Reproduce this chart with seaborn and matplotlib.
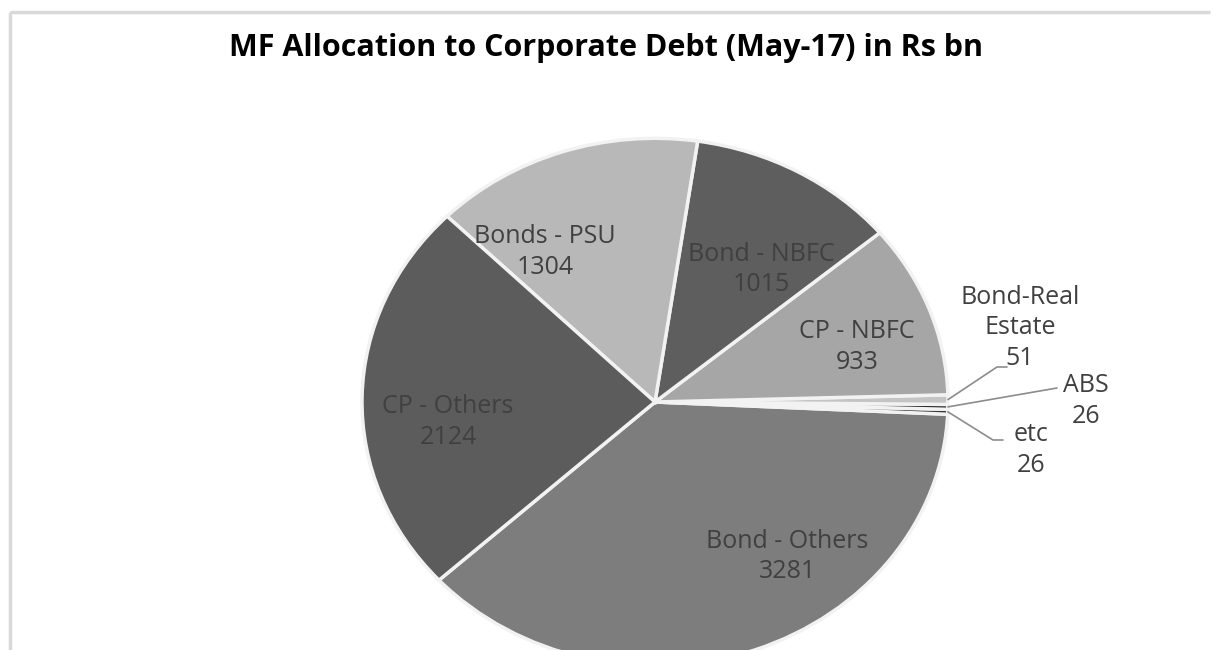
import numpy as np
import matplotlib
matplotlib.use("Agg")
import matplotlib.pyplot as plt
import seaborn as sns

categories = ["Bond - Others", "etc", "ABS", "Bond-Real\nEstate", "CP - NBFC",
              "Bond - NBFC", "Bonds - PSU", "CP - Others"]
values = [3281, 26, 26, 51, 933, 1015, 1304, 2124]
colors = ["#7d7d7d", "#3a3a3a", "#2e2e2e", "#c4c4c4", "#a6a6a6",
          "#5e5e5e", "#b8b8b8", "#5c5c5c"]
title = "MF Allocation to Corporate Debt (May-17) in Rs bn"

sns.set_theme(style="white")
plt.rcParams["font.family"] = ["Open Sans", "DejaVu Sans"]

W, H = 1214, 650
TILT = 0.9  # vertical squash of the pie (3D look)
fig = plt.figure(figsize=(W / 100, H / 100), dpi=100, facecolor="white")
ax = fig.add_axes([0, 0, 1, 1])


def to_data(px, py):
    """pixel (from top-left) -> data coords"""
    return px, (H - py) / TILT


cx, cy = to_data(655, 402)
R = 293
explode = [0.025, 0, 0, 0, 0, 0, 0, 0]
wedges, _ = ax.pie(values, colors=colors, startangle=222.5, counterclock=True,
                   center=(cx, cy), radius=R, explode=explode,
                   wedgeprops=dict(edgecolor="#f2f2f2", linewidth=2.5))
ax.set_aspect("auto")
ax.set_xlim(0, W)
ax.set_ylim(0, H / TILT)
ax.axis("off")
ax.patch.set_visible(False)

txt_color = "#404040"
fs = 18
# inside labels: (radial fraction, angle offset in degrees)
inside = {0: (0.74, 17.8), 4: (0.72, -3.8), 5: (0.62, -6.7),
          6: (0.68, 15), 7: (0.71, 7.2)}
for i, (rf, off) in inside.items():
    w = wedges[i]
    ang = np.deg2rad((w.theta1 + w.theta2) / 2 + off)
    x = cx + rf * R * np.cos(ang)
    y = cy + rf * R * np.sin(ang)
    ax.text(x, y, f"{categories[i]}\n{values[i]}", ha="center", va="center",
            fontsize=fs, color=txt_color, linespacing=1.3)

# outside labels with leader lines (elbow pixel, text pixel)
outside = {3: ((997, 367), (1020, 328)),
           2: ((1057, 388), (1086, 401)),
           1: ((993, 440), (1031, 450))}
for i, (elbow, tpos) in outside.items():
    w = wedges[i]
    ang = np.deg2rad((w.theta1 + w.theta2) / 2)
    px = cx + R * np.cos(ang)
    py = cy + R * np.sin(ang)
    ex, ey = to_data(*elbow)
    if i == 2:
        ax.plot([px, ex], [py, ey], color="#8c8c8c", lw=1.2)
    else:
        ax.plot([px, ex, ex + 10], [py, ey, ey], color="#8c8c8c", lw=1.2)
    tx, ty = to_data(*tpos)
    ax.text(tx, ty, f"{categories[i]}\n{values[i]}", ha="center",
            va="center", fontsize=fs, color=txt_color, linespacing=1.3)

# chart border (left and top only)
fig.add_artist(plt.Line2D([10 / W, 10 / W], [0, 1 - 12 / H],
                          color="#d9d9d9", lw=2.5, solid_capstyle="butt"))
fig.add_artist(plt.Line2D([10 / W, 1 - 4 / W], [1 - 12 / H, 1 - 12 / H],
                          color="#d9d9d9", lw=2.5, solid_capstyle="butt"))

fig.text(606 / W, 1 - 48 / H, title, ha="center", va="center",
         fontsize=22, fontweight="bold", color="#000000")

fig.savefig("out.png", dpi=100, facecolor="white")
